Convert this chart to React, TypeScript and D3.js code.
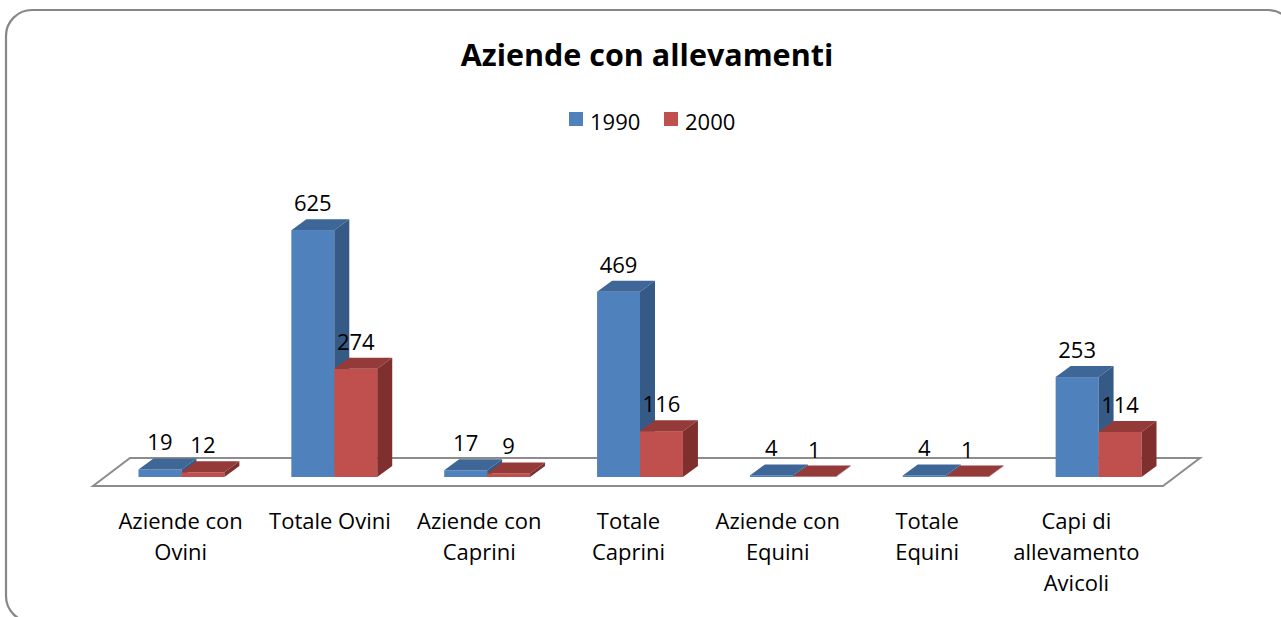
import React from "react";
import * as d3 from "d3";

const categories = [
  "Aziende con\nOvini",
  "Totale Ovini",
  "Aziende con\nCaprini",
  "Totale\nCaprini",
  "Aziende con\nEquini",
  "Totale\nEquini",
  "Capi di\nallevamento\nAvicoli",
];
const series = ["1990", "2000"];
const values1990 = [19, 625, 17, 469, 4, 4, 253];
const values2000 = [12, 274, 9, 116, 1, 1, 114];
const seriesValues = [values1990, values2000];

const colors = [
  { front: "#4f81bd", top: "#3e6696", side: "#365a86" },
  { front: "#c0504d", top: "#943a38", side: "#7f302e" },
];

const FONT = "'Open Sans', 'Noto Sans', sans-serif";

export default function App() {
  const width = 1281;
  const height = 617;

  // floor geometry (oblique projection)
  const floorFront = 486;
  const depth = { dx: 37, dy: -28 };
  const barOff = { dx: 12, dy: -9 };
  const barDepth = { dx: 15, dy: -11 };

  const x = d3
    .scaleBand()
    .domain(categories)
    .range([93 + barOff.dx, 1163 + barOff.dx])
    .padding(0);

  const xSub = d3
    .scaleBand()
    .domain(series)
    .range([0, x.bandwidth()])
    .paddingInner(0)
    .paddingOuter(0.78);

  const baseY = floorFront + barOff.dy;
  const y = d3.scaleLinear().domain([0, 700]).range([baseY, baseY - 700 * 0.395]);

  // category labels sit on a slightly tighter band than the bars
  const xLabel = d3.scaleBand().domain(categories).range([106, 1151]);

  const [fx0, fx1] = [93, 1163];
  const floorPath = `M${fx0},${floorFront} L${fx0 + depth.dx},${floorFront + depth.dy} L${fx1 + depth.dx},${floorFront + depth.dy} L${fx1},${floorFront} Z`;

  const bars: React.ReactElement[] = [];
  const labels: React.ReactElement[] = [];
  categories.forEach((c, i) => {
    series.forEach((s, j) => {
      const v = seriesValues[j][i];
      const x0 = (x(c) as number) + (xSub(s) as number);
      const w = xSub.bandwidth();
      const yt = y(v);
      const yb = y(0);
      const col = colors[j];
      const dx = barDepth.dx;
      const dy = barDepth.dy;
      bars.push(
        <g key={`${c}-${s}`}>
          <rect x={x0} y={yt} width={w} height={yb - yt} fill={col.front} />
          <path
            d={`M${x0},${yt} L${x0 + dx},${yt + dy} L${x0 + w + dx},${yt + dy} L${x0 + w},${yt} Z`}
            fill={col.top}
          />
          <path
            d={`M${x0 + w},${yt} L${x0 + w + dx},${yt + dy} L${x0 + w + dx},${yb + dy} L${x0 + w},${yb} Z`}
            fill={col.side}
          />
        </g>
      );
      labels.push(
        <text
          key={`l-${c}-${s}`}
          x={x0 + w / 2}
          y={yt + dy - 8}
          textAnchor="middle"
          fontSize={22}
          fill="#000"
        >
          {v}
        </text>
      );
    });
  });

  return (
    <svg
      width={width}
      height={height}
      style={{ position: "absolute", left: 0, top: 0, background: "#fff" }}
      fontFamily={FONT}
    >
      <rect
        x={6}
        y={10}
        width={1288}
        height={612}
        rx={26}
        fill="#fff"
        stroke="#878787"
        strokeWidth={2.2}
      />
      <text
        x={647}
        y={66}
        textAnchor="middle"
        fontSize={30.5}
        fontWeight="bold"
        fill="#000"
      >
        Aziende con allevamenti
      </text>
      <g>
        {series.map((s, j) => (
          <g key={s} transform={`translate(${569 + j * 95},112)`}>
            <rect width={14} height={14} fill={colors[j].front} />
            <text x={21} y={18} fontSize={22} fill="#000">
              {s}
            </text>
          </g>
        ))}
      </g>
      <path d={floorPath} fill="#fff" stroke="#8c8c8c" strokeWidth={2} />
      {bars}
      {labels}
      {categories.map((c) => (
        <text
          key={c}
          textAnchor="middle"
          fontSize={22}
          fill="#000"
        >
          {c.split("\n").map((line, k) => (
            <tspan key={k} x={(xLabel(c) as number) + xLabel.bandwidth() / 2} y={529 + k * 31}>
              {line}
            </tspan>
          ))}
        </text>
      ))}
    </svg>
  );
}
